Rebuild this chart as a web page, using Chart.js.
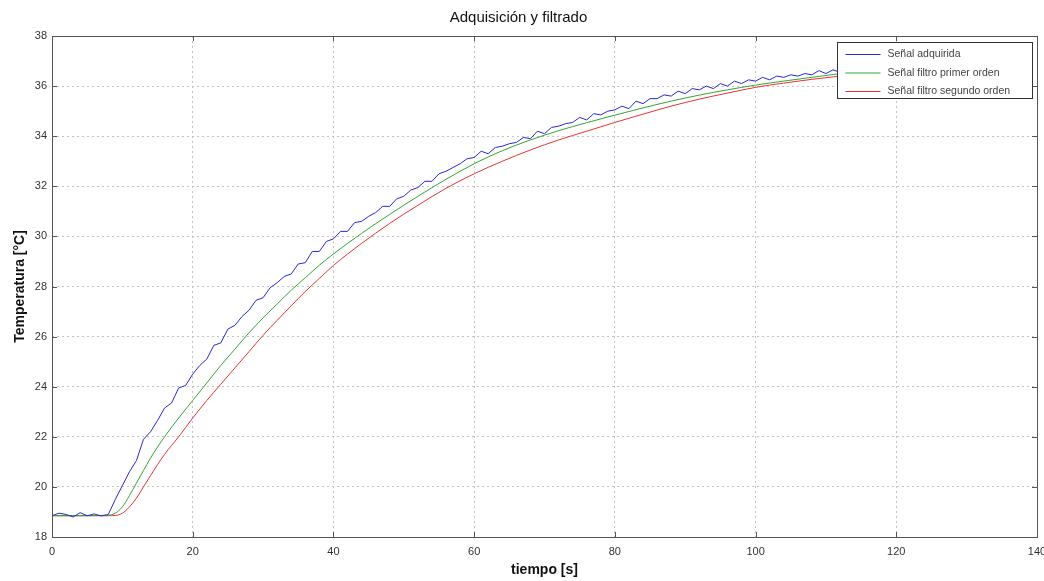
<!DOCTYPE html>
<html>
<head>
<meta charset="utf-8">
<script src="https://cdn.jsdelivr.net/npm/chart.js@4"></script>
<style>
  html, body { margin: 0; padding: 0; background: #fff; }
  #wrap { width: 1044px; height: 581px; }
</style>
</head>
<body>
<div id="wrap"><canvas id="chart" width="1044" height="581"></canvas></div>
<script>
// tiempo [s] of the acquired signal
const tiempoAdq = [
  0, 1, 2, 3, 4, 5, 6, 7, 8, 9, 10, 11, 12, 13, 14, 15, 16, 17, 18, 19,
  20, 21, 22, 23, 24, 25, 26, 27, 28, 29, 30, 31, 32, 33, 34, 35, 36, 37, 38, 39,
  40, 41, 42, 43, 44, 45, 46, 47, 48, 49, 50, 51, 52, 53, 54, 55, 56, 57, 58, 59,
  60, 61, 62, 63, 64, 65, 66, 67, 68, 69, 70, 71, 72, 73, 74, 75, 76, 77, 78, 79,
  80, 81, 82, 83, 84, 85, 86, 87, 88, 89, 90, 91, 92, 93, 94, 95, 96, 97, 98, 99,
  100, 101, 102, 103, 104, 105, 106, 107, 108, 109, 110, 111, 112
];
const senalAdquirida = [
  18.85, 18.95, 18.9, 18.8, 18.97, 18.85, 18.92, 18.84, 18.9, 19.5,
  20.05, 20.6, 21.05, 21.9, 22.2, 22.65, 23.15, 23.35, 23.95, 24.05,
  24.5, 24.85, 25.1, 25.65, 25.75, 26.3, 26.45, 26.8, 27.05, 27.45,
  27.55, 27.95, 28.15, 28.4, 28.5, 28.9, 28.95, 29.4, 29.4, 29.8,
  29.9, 30.2, 30.2, 30.55, 30.6, 30.8, 30.95, 31.2, 31.2, 31.5,
  31.6, 31.85, 31.95, 32.2, 32.2, 32.5, 32.6, 32.75, 32.9, 33.1,
  33.15, 33.4, 33.3, 33.55, 33.6, 33.7, 33.75, 33.95, 33.9, 34.2,
  34.1, 34.35, 34.4, 34.5, 34.55, 34.75, 34.65, 34.9, 34.85, 35.0,
  35.05, 35.2, 35.1, 35.4, 35.3, 35.5, 35.5, 35.65, 35.6, 35.8,
  35.7, 35.9, 35.85, 36.0, 35.9, 36.1, 36.0, 36.2, 36.1, 36.25,
  36.2, 36.35, 36.25, 36.4, 36.35, 36.45, 36.4, 36.5, 36.45, 36.62,
  36.5, 36.65, 36.55
];

// tiempo [s] of the filtered signals
const tiempoFiltro = [
  0, 4, 8, 9, 10, 11, 12, 13, 14, 16, 18, 20, 22, 24, 26, 28, 30, 32, 34, 36,
  38, 40, 44, 48, 52, 56, 60, 64, 68, 72, 76, 80, 84, 88, 92, 96, 100, 104, 108, 112
];
const filtroPrimerOrden = [
  18.85, 18.85, 18.87, 18.95, 19.2, 19.65, 20.15, 20.65, 21.15, 22.0, 22.75, 23.45, 24.15, 24.85, 25.5, 26.15, 26.75, 27.3, 27.85, 28.35,
  28.85, 29.3, 30.12, 30.88, 31.6, 32.28, 32.9, 33.42, 33.85, 34.22, 34.54, 34.84, 35.13, 35.4, 35.64, 35.85, 36.04, 36.2, 36.35, 36.5
];
const filtroSegundoOrden = [
  18.85, 18.85, 18.85, 18.86, 18.95, 19.2, 19.55, 20.0, 20.45, 21.3, 22.0, 22.75, 23.45, 24.1, 24.75, 25.4, 26.05, 26.65, 27.23, 27.8,
  28.32, 28.84, 29.72, 30.52, 31.24, 31.92, 32.5, 33.0, 33.45, 33.85, 34.2, 34.55, 34.88, 35.2, 35.48, 35.72, 35.95, 36.12, 36.27, 36.4
];

const seriesNames = ['Señal adquirida', 'Señal filtro primer orden', 'Señal filtro segundo orden'];
const seriesColors = ['rgb(40, 40, 215)', 'rgb(50, 165, 50)', 'rgb(235, 50, 50)'];

const xTicks = [0, 20, 40, 60, 80, 100, 120, 140];
const yTicks = [18, 20, 22, 24, 26, 28, 30, 32, 34, 36, 38];

const FONT = 'Liberation Sans, Arial, sans-serif';

const toPoints = (xs, ys) => ys.map((y, i) => ({ x: xs[i], y }));

// box around the axes, inward ticks and the legend inside the plot (matlab style)
const matlabFrame = {
  id: 'matlabFrame',
  afterDraw(chart) {
    const { ctx, chartArea: a, scales } = chart;
    ctx.save();
    ctx.strokeStyle = '#555';
    ctx.lineWidth = 1;
    ctx.strokeRect(Math.round(a.left) + 0.5, Math.round(a.top) + 0.5,
      Math.round(a.right - a.left), Math.round(a.bottom - a.top));

    const tl = 5;
    ctx.beginPath();
    xTicks.forEach((v) => {
      const px = Math.round(scales.x.getPixelForValue(v)) + 0.5;
      ctx.moveTo(px, a.bottom); ctx.lineTo(px, a.bottom - tl);
      ctx.moveTo(px, a.top); ctx.lineTo(px, a.top + tl);
    });
    yTicks.forEach((v) => {
      const py = Math.round(scales.y.getPixelForValue(v)) + 0.5;
      ctx.moveTo(a.left, py); ctx.lineTo(a.left + tl, py);
      ctx.moveTo(a.right, py); ctx.lineTo(a.right - tl, py);
    });
    ctx.stroke();

    // legend
    const w = 195, h = 56;
    const lx = Math.round(a.right) - w - 4.5, ly = Math.round(a.top) + 6.5;
    ctx.fillStyle = '#fff';
    ctx.fillRect(lx, ly, w, h);
    ctx.strokeStyle = '#333';
    ctx.strokeRect(lx, ly, w, h);
    ctx.font = '10.5px ' + FONT;
    ctx.textBaseline = 'middle';
    chart.data.datasets.forEach((ds, i) => {
      const ry = ly + 12 + i * 18.5;
      ctx.strokeStyle = ds.borderColor;
      ctx.beginPath();
      ctx.moveTo(lx + 8, ry); ctx.lineTo(lx + 43, ry);
      ctx.stroke();
      ctx.fillStyle = '#444';
      ctx.fillText(ds.label, lx + 50, ry);
    });
    ctx.restore();
  },
};

new Chart(document.getElementById('chart'), {
  type: 'line',
  data: {
    datasets: [
      {
        label: seriesNames[0],
        data: toPoints(tiempoAdq, senalAdquirida),
        borderColor: seriesColors[0],
        borderWidth: 1,
        pointRadius: 0,
        tension: 0,
      },
      {
        label: seriesNames[1],
        data: toPoints(tiempoFiltro, filtroPrimerOrden),
        borderColor: seriesColors[1],
        borderWidth: 1,
        pointRadius: 0,
        cubicInterpolationMode: 'monotone',
      },
      {
        label: seriesNames[2],
        data: toPoints(tiempoFiltro, filtroSegundoOrden),
        borderColor: seriesColors[2],
        borderWidth: 1,
        pointRadius: 0,
        cubicInterpolationMode: 'monotone',
      },
    ],
  },
  options: {
    responsive: false,
    animation: false,
    layout: { padding: { left: 0, right: 7, top: 0, bottom: 0 } },
    plugins: {
      legend: { display: false },
      tooltip: { enabled: false },
      title: {
        display: true,
        text: 'Adquisición y filtrado',
        color: '#111',
        font: { family: FONT, size: 15, weight: 'normal', lineHeight: 1.2 },
        padding: { top: 9, bottom: 9 },
      },
    },
    scales: {
      x: {
        type: 'linear',
        min: 0,
        max: 140,
        afterBuildTicks: (scale) => { scale.ticks = xTicks.map((value) => ({ value })); },
        ticks: { color: '#333', font: { family: FONT, size: 11 }, padding: 8, maxRotation: 0 },
        grid: { color: '#c4c4c4', drawTicks: false },
        border: { display: false, dash: [2, 3] },
        title: {
          display: true,
          text: 'tiempo [s]',
          color: '#111',
          font: { family: FONT, size: 14, weight: 'bold', lineHeight: 1.2 },
          padding: { top: 0, bottom: 2 },
        },
        afterFit: (scale) => {
          scale.height = 44;
          scale.paddingLeft = 0;
          scale.paddingRight = 0;
        },
      },
      y: {
        min: 18,
        max: 38,
        afterBuildTicks: (scale) => { scale.ticks = yTicks.map((value) => ({ value })); },
        ticks: { color: '#333', font: { family: FONT, size: 11 }, padding: 5 },
        grid: { color: '#c4c4c4', drawTicks: false },
        border: { display: false, dash: [2, 3] },
        title: {
          display: true,
          text: 'Temperatura [°C]',
          color: '#111',
          font: { family: FONT, size: 14, weight: 'bold', lineHeight: 1.2 },
          padding: { top: 12, bottom: 0 },
        },
        afterFit: (scale) => {
          scale.width = 52;
          scale.paddingTop = 0;
          scale.paddingBottom = 0;
        },
      },
    },
  },
  plugins: [matlabFrame],
});
</script>
</body>
</html>
